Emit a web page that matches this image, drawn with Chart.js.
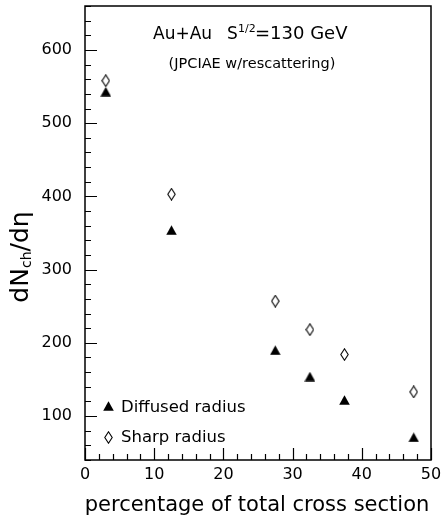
<!DOCTYPE html>
<html lang="en">
<head>
<meta charset="UTF-8">
<title>dNch/deta vs percentage of total cross section</title>
<script src="https://cdn.jsdelivr.net/npm/chart.js@4"></script>
<style>
  html, body { margin: 0; padding: 0; background: #fff; }
</style>
</head>
<body>
<canvas id="chart1" width="441" height="517"></canvas>
<script>
// values
const centrality = [3, 12.5, 27.5, 32.5, 37.5, 47.5];
const diffused = [543, 354, 190, 154, 122, 71];
const sharp = [558, 403, 257, 218, 184, 133];
const xTicks = [0, 10, 20, 30, 40, 50];
const yTicks = [100, 200, 300, 400, 500, 600];

const FONT = "'DejaVu Sans', sans-serif";

// marker images so they sit centred on the value (like ROOT markers)
function triangleMarker() {
    const c = document.createElement('canvas');
    c.width = 11; c.height = 10;
    const g = c.getContext('2d');
    g.fillStyle = '#000';
    g.beginPath();
    g.moveTo(5.5, 0.3); g.lineTo(10.8, 9.7); g.lineTo(0.2, 9.7); g.closePath();
    g.fill();
    return c;
}
function diamondMarker() {
    const c = document.createElement('canvas');
    c.width = 9; c.height = 13;
    const g = c.getContext('2d');
    g.strokeStyle = '#000'; g.lineWidth = 1.1;
    g.beginPath();
    g.moveTo(4.5, 0.8); g.lineTo(8.2, 6.5); g.lineTo(4.5, 12.2); g.lineTo(0.8, 6.5); g.closePath();
    g.stroke();
    return c;
}
const triImg = triangleMarker();
const diaImg = diamondMarker();

// frame, inward ticks, titles and legend
const decorations = {
    id: 'decorations',
    afterDraw(chart) {
        const ctx = chart.ctx;
        const a = chart.chartArea;
        const xs = chart.scales.x, ys = chart.scales.y;
        ctx.save();
        ctx.strokeStyle = '#000';
        ctx.lineWidth = 1.5;
        ctx.strokeRect(a.left, a.top, a.right - a.left, a.bottom - a.top);

        ctx.lineWidth = 1.2;
        ctx.beginPath();
        for (let v = xs.min; v <= xs.max; v += 2) {
            const px = Math.round(xs.getPixelForValue(v)) + 0.5;
            const len = v % 10 === 0 ? 12 : 6;
            ctx.moveTo(px, a.bottom); ctx.lineTo(px, a.bottom - len);
        }
        for (let v = ys.min; v <= ys.max; v += 20) {
            const py = Math.round(ys.getPixelForValue(v)) + 0.5;
            const len = v % 100 === 0 ? 12 : 6;
            ctx.moveTo(a.left, py); ctx.lineTo(a.left + len, py);
        }
        ctx.stroke();

        ctx.fillStyle = '#000';
        ctx.textBaseline = 'alphabetic';

        // top label
        ctx.textAlign = 'left';
        ctx.font = '17px ' + FONT;
        ctx.fillText('Au+Au', 153, 39);
        ctx.fillText('S', 227, 39);
        ctx.font = '11px ' + FONT;
        ctx.fillText('1/2', 238, 32);
        ctx.font = '18px ' + FONT;
        ctx.fillText('=130 GeV', 255, 39);

        ctx.textAlign = 'center';
        ctx.font = '14.5px ' + FONT;
        ctx.fillText('(JPCIAE w/rescattering)', 252, 68);

        // x title
        ctx.font = '21px ' + FONT;
        ctx.fillText('percentage of total cross section', 257, 511);

        // y title, rotated
        ctx.save();
        ctx.translate(28, 257);
        ctx.rotate(-Math.PI / 2);
        ctx.textAlign = 'left';
        const big = '25px ' + FONT, small = '14px ' + FONT;
        ctx.font = big;
        const w1 = ctx.measureText('dN').width;
        const w3 = ctx.measureText('/d\u03b7').width;
        ctx.font = small;
        const w2 = ctx.measureText('ch').width;
        let x0 = -(w1 + w2 + w3) / 2;
        ctx.font = big; ctx.fillText('dN', x0, 0);
        ctx.font = small; ctx.fillText('ch', x0 + w1, 3);
        ctx.font = big; ctx.fillText('/d\u03b7', x0 + w1 + w2, 0);
        ctx.restore();

        // legend
        ctx.textAlign = 'left';
        ctx.font = '16.5px ' + FONT;
        const rows = [[triImg, 405.5, 411.5], [diaImg, 437, 442]];
        chart.data.datasets.forEach((ds, i) => {
            const [img, my, by] = rows[i];
            ctx.drawImage(img, Math.round(108 - img.width / 2), Math.round(my - img.height / 2));
            ctx.fillText(ds.label, 121, by);
        });
        ctx.restore();
    }
};

new Chart(document.getElementById('chart1'), {
    type: 'scatter',
    data: {
        datasets: [{
            label: 'Diffused radius',
            data: centrality.map((x, i) => ({ x: x, y: diffused[i] })),
            pointStyle: triImg,
            pointRadius: 6
        }, {
            label: 'Sharp radius',
            data: centrality.map((x, i) => ({ x: x, y: sharp[i] })),
            pointStyle: diaImg,
            pointRadius: 6
        }]
    },
    plugins: [decorations],
    options: {
        responsive: false,
        animation: false,
        devicePixelRatio: 1,
        layout: {
            autoPadding: false,
            padding: { top: 6, right: 10, left: 0, bottom: 0 }
        },
        plugins: {
            legend: { display: false },
            tooltip: { enabled: false }
        },
        scales: {
            x: {
                type: 'linear',
                min: 0,
                max: 50,
                afterBuildTicks: s => { s.ticks = xTicks.map(v => ({ value: v })); },
                afterFit: s => { s.height = 57; s.paddingLeft = 0; s.paddingRight = 0; },
                grid: { display: false, drawTicks: false },
                border: { display: false },
                ticks: {
                    color: '#000',
                    font: { family: FONT, size: 16 },
                    padding: 5,
                    maxRotation: 0
                }
            },
            y: {
                type: 'linear',
                min: 40,
                max: 660,
                afterBuildTicks: s => { s.ticks = yTicks.map(v => ({ value: v })); },
                afterFit: s => { s.width = 85; s.paddingTop = 0; s.paddingBottom = 0; },
                grid: { display: false, drawTicks: false },
                border: { display: false },
                ticks: {
                    color: '#000',
                    font: { family: FONT, size: 16 },
                    padding: 13
                }
            }
        }
    }
});
</script>
</body>
</html>
